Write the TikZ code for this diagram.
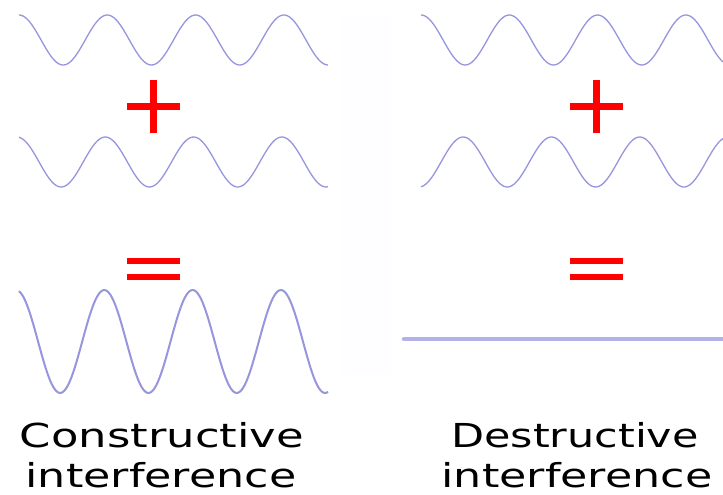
\documentclass[tikz,border=0pt]{standalone}
\usepackage{fontspec}
\setmainfont{DejaVu Sans}
\usepackage{graphicx}
\definecolor{wavec}{RGB}{150,150,222}
\definecolor{flatc}{RGB}{178,178,234}
\definecolor{panelc}{RGB}{254,253,255}
\begin{document}
\begin{tikzpicture}[x=1pt,y=-1pt,
  wave/.style={draw=wavec, line width=1.3pt, line join=round},
  bigwave/.style={wave, line width=2pt},
  flatline/.style={draw=flatc, line width=4.5pt, line cap=round},
  signbar/.style={fill=red, draw=none},
  captext/.style={anchor=base, inner sep=0pt, font=\fontsize{33}{33}\selectfont}]
\useasboundingbox[fill=white] (0,0) rectangle (723,495);
\fill[panelc] (340,15) rectangle (391,375);
% left column
\draw[wave] plot[domain=19:328, samples=160, smooth] (\x, {40-25*cos(4.077*(\x-19))});
\fill[signbar] (127,103) rectangle (180,110);
\fill[signbar] (150,80) rectangle (157,133);
\draw[wave] plot[domain=19:328, samples=160, smooth] (\x, {162-25*cos(4.077*(\x-17))});
\fill[signbar] (127,258) rectangle (180,264);
\fill[signbar] (127,274) rectangle (180,280);
\draw[bigwave] plot[domain=19:328, samples=160, smooth] (\x, {341.5-51.5*cos(4.077*(\x-16))});
% right column
\draw[wave] plot[domain=421:723, samples=160, smooth] (\x, {40-25*cos(4.077*(\x-421))});
\fill[signbar] (570,103) rectangle (623,110);
\fill[signbar] (593,80) rectangle (600,133);
\draw[wave] plot[domain=421:723, samples=160, smooth] (\x, {162+25*cos(4.077*(\x-419))});
\fill[signbar] (570,258) rectangle (623,264);
\fill[signbar] (570,274) rectangle (623,280);
\coordinate (fa) at (404,339);
\coordinate (fb) at (726,339);
\draw[flatline] (fa) -- (fb);
% captions
\node[captext] (c1) at (162,447) {\scalebox{1.36}[1]{Constructive}};
\node[captext] (c2) at (161,487) {\scalebox{1.345}[1]{interference}};
\node[captext] (d1) at (575,447) {\scalebox{1.3}[1]{Destructive}};
\node[captext] (d2) at (577,487) {\scalebox{1.345}[1]{interference}};
\end{tikzpicture}
\end{document}
